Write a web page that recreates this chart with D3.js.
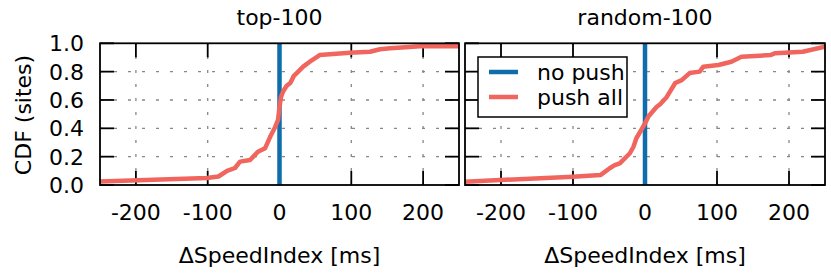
<!DOCTYPE html>
<html><head><meta charset="utf-8">
<script src="https://cdn.jsdelivr.net/npm/d3@7"></script>
<style>body{margin:0;background:#fff} text{font-family:"DejaVu Sans",sans-serif;fill:#000}</style>
</head><body><svg id="c" width="831" height="279"></svg>
<script>
const panelTitles = ["top-100", "random-100"];
const xTicks = [-200, -100, 0, 100, 200];
const yTicks = [0, 0.2, 0.4, 0.6, 0.8, 1.0];
const seriesNames = ["no push", "push all"];
const seriesColors = ["#0f6dab", "#f0665e"];
const noPushX = [0, 0];
const noPushY = [0, 1];
const top100X = [-250, -101, -85, -73, -62, -55, -41, -30, -20, -13, -6, -2, 0, 2, 5, 10, 15, 20, 24, 33, 45, 56, 98, 126, 140, 154, 196, 250];
const top100Y = [0.025, 0.05, 0.06, 0.10, 0.12, 0.165, 0.176, 0.235, 0.26, 0.34, 0.41, 0.46, 0.55, 0.62, 0.66, 0.70, 0.72, 0.77, 0.79, 0.835, 0.88, 0.917, 0.934, 0.94, 0.958, 0.965, 0.98, 0.98];
const random100X = [-250, -100, -62, -49, -42, -35, -21, -16, -12, -5, 0, 5, 16, 21, 30, 42, 51, 62, 76, 81, 102, 120, 134, 174, 181, 219, 250];
const random100Y = [0.023, 0.059, 0.07, 0.118, 0.14, 0.153, 0.224, 0.27, 0.33, 0.39, 0.435, 0.485, 0.55, 0.57, 0.62, 0.72, 0.74, 0.79, 0.80, 0.835, 0.847, 0.87, 0.905, 0.917, 0.93, 0.94, 0.976];

const pushAll = [[top100X, top100Y], [random100X, random100Y]];
const svg = d3.select("#c");
const FS = 22;
const panelRanges = [[100, 459], [465, 825]];
const yScale = d3.scaleLinear().domain([0, 1]).range([185, 43.3]);

panelRanges.forEach((r, pi) => {
  const x = d3.scaleLinear().domain([-250, 250]).range(r);
  const g = svg.append("g");
  const y0 = yScale(0), y1 = yScale(1);
  g.selectAll(".gx").data(xTicks).join("line")
    .attr("x1", d => x(d)).attr("x2", d => x(d)).attr("y1", y0).attr("y2", y1)
    .attr("stroke", "#888").attr("stroke-width", 1.3).attr("stroke-dasharray", "3,11");
  g.selectAll(".gy").data(yTicks.filter(v => v > 0 && v < 1)).join("line")
    .attr("x1", r[0]).attr("x2", r[1]).attr("y1", d => yScale(d)).attr("y2", d => yScale(d))
    .attr("stroke", "#888").attr("stroke-width", 1.3).attr("stroke-dasharray", "3,11");
  const tl = 14;
  xTicks.forEach(t => {
    g.append("line").attr("x1", x(t)).attr("x2", x(t)).attr("y1", y0).attr("y2", y0 - tl).attr("stroke", "#000").attr("stroke-width", 1.8);
    g.append("line").attr("x1", x(t)).attr("x2", x(t)).attr("y1", y1).attr("y2", y1 + tl).attr("stroke", "#000").attr("stroke-width", 1.8);
  });
  yTicks.forEach(t => {
    g.append("line").attr("x1", r[0]).attr("x2", r[0] + tl).attr("y1", yScale(t)).attr("y2", yScale(t)).attr("stroke", "#000").attr("stroke-width", 1.8);
    g.append("line").attr("x1", r[1]).attr("x2", r[1] - tl).attr("y1", yScale(t)).attr("y2", yScale(t)).attr("stroke", "#000").attr("stroke-width", 1.8);
  });
  const cid = "clip" + pi;
  svg.append("clipPath").attr("id", cid).append("rect").attr("x", r[0]).attr("y", y1).attr("width", r[1] - r[0]).attr("height", y0 - y1);
  const line = d3.line().x(d => x(d[0])).y(d => yScale(d[1]));
  const npData = noPushX.map((v, i) => [v, noPushY[i]]);
  g.append("path").attr("clip-path", `url(#${cid})`).attr("d", line(npData)).attr("fill", "none")
    .attr("stroke", seriesColors[0]).attr("stroke-width", 4.5);
  const pa = pushAll[pi][0].map((v, i) => [v, pushAll[pi][1][i]]);
  g.append("path").attr("clip-path", `url(#${cid})`).attr("d", line(pa)).attr("fill", "none")
    .attr("stroke", seriesColors[1]).attr("stroke-width", 4.5).attr("stroke-linejoin", "round");
  g.append("rect").attr("x", r[0]).attr("y", y1).attr("width", r[1] - r[0]).attr("height", y0 - y1)
    .attr("fill", "none").attr("stroke", "#000").attr("stroke-width", 1.8);
  g.selectAll(".xl").data(xTicks).join("text").attr("x", d => x(d)).attr("y", 220)
    .attr("text-anchor", "middle").attr("font-size", FS).text(d => d < 0 ? "-" + Math.abs(d) : String(d));
  g.append("text").attr("x", (r[0] + r[1]) / 2).attr("y", 25).attr("text-anchor", "middle").attr("font-size", FS).text(panelTitles[pi]);
  g.append("text").attr("x", (r[0] + r[1]) / 2).attr("y", 263).attr("text-anchor", "middle").attr("font-size", FS).text("ΔSpeedIndex [ms]");
  if (pi === 0) {
    g.selectAll(".yl").data(yTicks).join("text").attr("x", 84).attr("y", d => yScale(d) + 8)
      .attr("text-anchor", "end").attr("font-size", FS).text(d => d.toFixed(1));
    g.append("text").attr("transform", "translate(31,115) rotate(-90)").attr("text-anchor", "middle")
      .attr("font-size", FS).text("CDF (sites)");
  } else {
    const lg = g.append("g");
    lg.append("rect").attr("x", 478).attr("y", 57).attr("width", 149).attr("height", 60)
      .attr("fill", "#fff").attr("stroke", "#000").attr("stroke-width", 1.5);
    seriesNames.forEach((n, i) => {
      const yy = 72 + i * 25;
      lg.append("line").attr("x1", 489).attr("x2", 518).attr("y1", yy).attr("y2", yy)
        .attr("stroke", seriesColors[i]).attr("stroke-width", 4.5);
      lg.append("text").attr("x", 537).attr("y", yy + 8).attr("font-size", FS).text(n);
    });
  }
});
</script></body></html>
